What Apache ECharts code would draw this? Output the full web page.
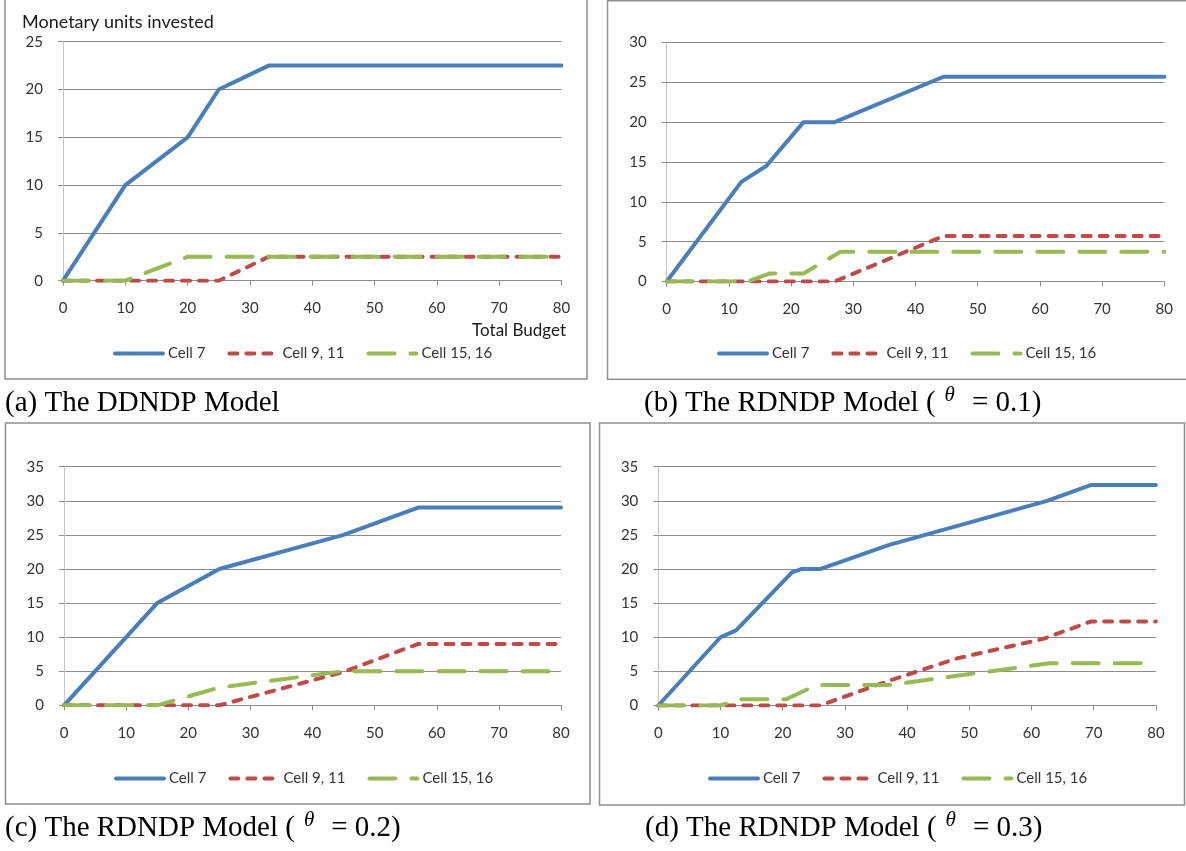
<!DOCTYPE html>
<html>
<head>
<meta charset="utf-8">
<script src="https://cdn.jsdelivr.net/npm/echarts@6/dist/echarts.min.js"></script>
<style>
  html, body { margin: 0; padding: 0; background: #fff; }
  #chart { width: 1186px; height: 851px; }
</style>
</head>
<body>
<div id="chart"></div>
<script>
// x = total budget, y = monetary units invested
const xTicks = [0, 10, 20, 30, 40, 50, 60, 70, 80]
const seriesNames = ['Cell 7', 'Cell 9, 11', 'Cell 15, 16']

// (a) DDNDP
const a7 = [[0, 0], [10, 10], [20, 15], [25, 20], [33, 22.5], [80, 22.5]]
const a911 = [[0, 0], [25, 0], [33, 2.5], [80, 2.5]]
const a1516 = [[0, 0], [10, 0], [20, 2.5], [80, 2.5]]

// (b) RDNDP theta = 0.1
const b7 = [[0, 0], [12, 12.5], [16, 14.5], [22, 20], [27, 20], [44.5, 25.7], [80, 25.7]]
const b911 = [[0, 0], [27, 0], [44.5, 5.7], [80, 5.7]]
const b1516 = [[0, 0], [13, 0], [16.5, 1], [22, 1], [28, 3.75], [80, 3.75]]

// (c) RDNDP theta = 0.2
const c7 = [[0, 0], [15, 15], [25, 20], [45, 25], [57, 29], [80, 29]]
const c911 = [[0, 0], [25, 0], [45, 4.9], [57, 9], [80, 9]]
const c1516 = [[0, 0], [15, 0], [25, 2.6], [45, 5], [80, 5]]

// (d) RDNDP theta = 0.3
const d7 = [[0, 0], [10, 10], [12.5, 11], [21.5, 19.5], [23, 20], [26, 20], [37, 23.5], [62.5, 30], [69.5, 32.3], [80, 32.3]]
const d911 = [[0, 0], [26, 0], [37, 3.6], [48, 6.9], [62, 9.8], [69.5, 12.3], [80, 12.3]]
const d1516 = [[0, 0], [10, 0], [13, 0.9], [20.5, 0.9], [25.5, 3], [37, 3], [63, 6.2], [80, 6.2]]

const yMaxes = [25, 30, 35, 35]
const panelData = [[a7, a911, a1516], [b7, b911, b1516], [c7, c911, c1516], [d7, d911, d1516]]

// layout (pixels)
const panels = [
  { grid: { left: 63, top: 41.7, width: 498.4, height: 239 }, box: [5, -2, 582, 381], legend: [113, 346], caption: [5, 385], theta: null, label: '(a) The DDNDP Model' },
  { grid: { left: 666.7, top: 42.5, width: 497.6, height: 239 }, box: [607.5, 0.75, 600, 378.5], legend: [717, 346], caption: [644, 385], theta: '0.1', label: '(b) The RDNDP Model (' },
  { grid: { left: 64, top: 466.7, width: 497, height: 238.6 }, box: [5.5, 423, 584.5, 381], legend: [114, 771], caption: [5, 810], theta: '0.2', label: '(c) The RDNDP Model (' },
  { grid: { left: 658.3, top: 466.7, width: 497.6, height: 238.8 }, box: [599.5, 423, 585, 382], legend: [708, 771], caption: [645, 810], theta: '0.3', label: '(d) The RDNDP Model (' }
]

const colors = ['#4a7ebb', '#be4b48', '#98b954']
const dashes = ['solid', [8, 9], [26, 16]]
const gridGray = '#8c8c8c'
const sans = 'Lato'
const serif = 'Liberation Serif'

let grids = []
let xAxes = []
let yAxes = []
let legends = []
let series = []
let graphics = []

panels.forEach((p, i) => {
  grids.push(Object.assign({ containLabel: false }, p.grid))
  xAxes.push({
    gridIndex: i,
    type: 'value',
    min: 0,
    max: 80,
    interval: 10,
    axisLine: { show: true, lineStyle: { color: gridGray, width: 1 } },
    axisTick: { show: true, length: 5, lineStyle: { color: gridGray } },
    axisLabel: {
      margin: 20,
      fontFamily: sans,
      fontSize: 15,
      color: '#333',
      formatter: v => xTicks.indexOf(v) >= 0 ? String(v) : ''
    },
    splitLine: { show: false }
  })
  yAxes.push({
    gridIndex: i,
    type: 'value',
    min: 0,
    max: yMaxes[i],
    interval: 5,
    axisLine: { show: true, lineStyle: { color: '#c4c4c4', width: 1 } },
    axisTick: { show: true, length: 5, lineStyle: { color: gridGray } },
    axisLabel: { margin: 20, fontFamily: sans, fontSize: 15, color: '#333' },
    splitLine: { show: true, lineStyle: { color: gridGray, width: 1 } }
  })
  legends.push({
    left: p.legend[0],
    top: p.legend[1],
    padding: 0,
    itemWidth: 48,
    itemHeight: 14,
    itemGap: 22,
    selectedMode: false,
    data: seriesNames,
    itemStyle: { opacity: 0 },
    lineStyle: { width: 4 },
    textStyle: { fontFamily: sans, fontSize: 15, color: '#333' }
  })
  panelData[i].forEach((d, k) => {
    series.push({
      name: seriesNames[k],
      type: 'line',
      xAxisIndex: i,
      yAxisIndex: i,
      data: d,
      symbol: 'none',
      animation: false,
      itemStyle: { color: colors[k] },
      lineStyle: { color: colors[k], width: 4, type: dashes[k], cap: 'round', join: 'round' }
    })
  })
  graphics.push({
    type: 'rect',
    silent: true,
    shape: { x: p.box[0], y: p.box[1], width: p.box[2], height: p.box[3] },
    style: { fill: 'none', stroke: '#8f8f8f', lineWidth: 1.5 }
  })
  let text = p.theta ? '{m|' + p.label + '}{t|θ}{m|= ' + p.theta + ')}' : '{m|' + p.label + '}'
  graphics.push({
    type: 'text',
    silent: true,
    x: p.caption[0],
    y: p.caption[1],
    style: {
      text: text,
      align: 'left',
      verticalAlign: 'top',
      fill: '#000',
      rich: {
        m: { fontFamily: serif, fontSize: 29, lineHeight: 36, fill: '#000' },
        t: { fontFamily: serif, fontStyle: 'italic', fontSize: 21, lineHeight: 10, verticalAlign: 'top', padding: [0, 17, 0, 9], fill: '#000' }
      }
    }
  })
})

// axis titles of panel (a)
graphics.push({
  type: 'text',
  silent: true,
  x: 22,
  y: 22,
  style: { text: 'Monetary units invested', fontFamily: sans, fontSize: 18, fill: '#1a1a1a', align: 'left', verticalAlign: 'middle' }
})
graphics.push({
  type: 'text',
  silent: true,
  x: 566,
  y: 331,
  style: { text: 'Total Budget', fontFamily: sans, fontSize: 17, fill: '#1a1a1a', align: 'right', verticalAlign: 'middle' }
})

let myChart = echarts.init(document.getElementById('chart'), null, { renderer: 'canvas' })
let option = {
  backgroundColor: '#fff',
  animation: false,
  grid: grids,
  xAxis: xAxes,
  yAxis: yAxes,
  legend: legends,
  series: series,
  graphic: graphics
}
myChart.setOption(option)
</script>
</body>
</html>
